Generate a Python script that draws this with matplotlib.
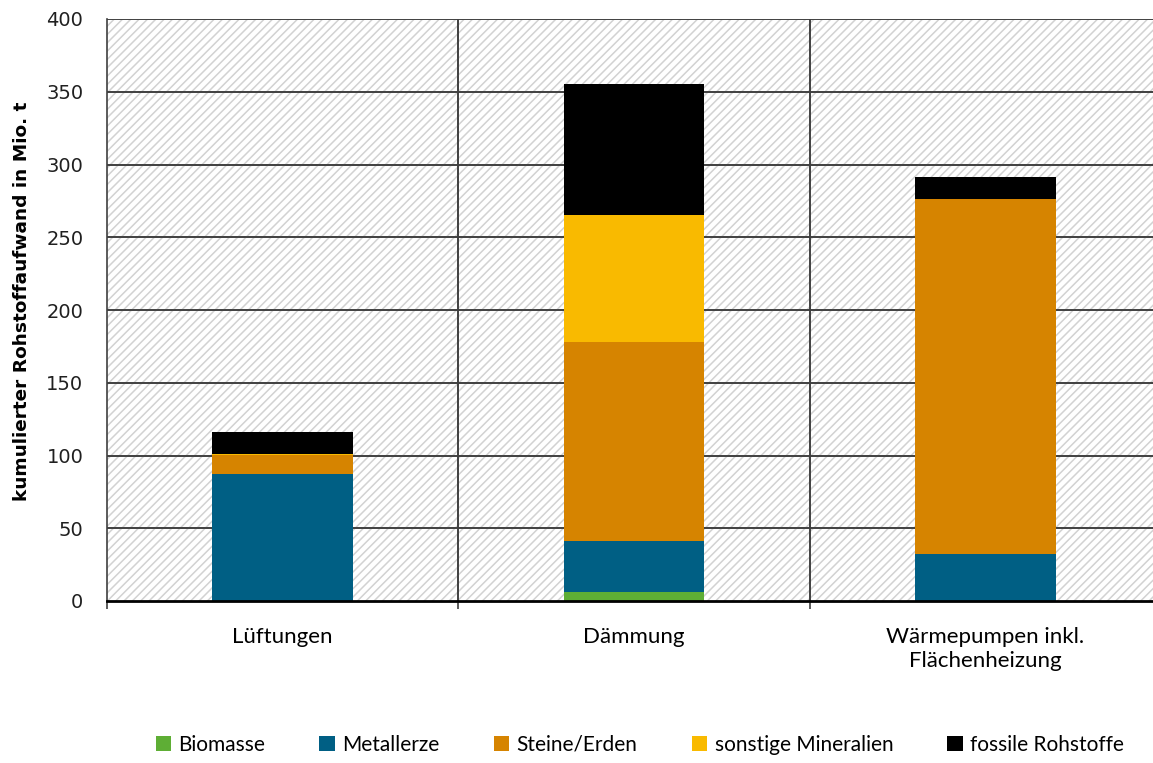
import numpy as np
import matplotlib.pyplot as plt
from matplotlib.patches import Rectangle

categories = ["Lüftungen", "Dämmung", "Wärmepumpen inkl.\nFlächenheizung"]
series = ["Biomasse", "Metallerze", "Steine/Erden", "sonstige Mineralien", "fossile Rohstoffe"]
biomasse = [0.0, 6.5, 0.0]
metallerze = [87.0, 34.5, 32.0]
steine = [13.5, 137.0, 244.0]
sonstige = [0.5, 87.5, 0.5]
fossile = [15.0, 89.5, 15.0]
colors = ["#5EAE35", "#005F84", "#D68400", "#F9BA00", "#000000"]

plt.rcParams["hatch.linewidth"] = 1.1

fig = plt.figure(figsize=(11.53, 7.63), dpi=100)
ax = fig.add_axes([107/1153, 1-601/763, 1054/1153, 582/763])

# hatched background
bg = Rectangle((0, 0), 1, 1, transform=ax.transAxes, facecolor="white",
               edgecolor="#d2d2d2", hatch="////", linewidth=0, zorder=0)
ax.add_patch(bg)
ax.set_facecolor("white")

x = np.arange(len(categories))
bottom = np.zeros(len(categories))
for vals, name, c in zip([biomasse, metallerze, steine, sonstige, fossile], series, colors):
    ax.bar(x, vals, 0.4, bottom=bottom, color=c, label=name, zorder=3)
    bottom += np.array(vals)

ax.set_xlim(-0.5, 2.5)
ax.set_ylim(0, 400)
ax.set_yticks(np.arange(0, 401, 50))
for y in np.arange(50, 401, 50):
    ax.axhline(y, color="#404040", lw=1.4, zorder=1)
for xv in [0.5, 1.5]:
    ax.axvline(xv, color="#404040", lw=1.4, zorder=1)

for s in ["top", "right"]:
    ax.spines[s].set_visible(False)
ax.spines["left"].set_color("#404040")
ax.spines["left"].set_linewidth(1.2)
ax.spines["bottom"].set_color("black")
ax.spines["bottom"].set_linewidth(2.0)
ax.spines["bottom"].set_zorder(5)

ax.set_xticks(x)
ax.set_xticklabels(categories, fontsize=16, family="Lato", linespacing=1.25)
ax.set_xticks([-0.5, 0.5, 1.5], minor=True)
ax.tick_params(axis="x", which="major", length=0, pad=19)
ax.tick_params(axis="x", which="minor", length=6, width=1.2, color="#404040")
ax.tick_params(axis="y", length=0, pad=17, labelsize=14)
for t in ax.get_yticklabels():
    t.set_family("DejaVu Sans")
    t.set_color("#202020")

ax.set_ylabel("kumulierter Rohstoffaufwand in Mio. t", fontsize=13.3,
              fontweight="bold", family="DejaVu Sans")
ax.yaxis.set_label_coords(-0.072, 0.515)

fig.legend(loc="lower center", bbox_to_anchor=(0.555, -0.014), ncol=5, frameon=False,
           handlelength=0.75, handleheight=0.75, handletextpad=0.35, columnspacing=2.6,
           prop={"family": "Lato", "size": 15})

fig.savefig("out.png", dpi=100, facecolor="white")
